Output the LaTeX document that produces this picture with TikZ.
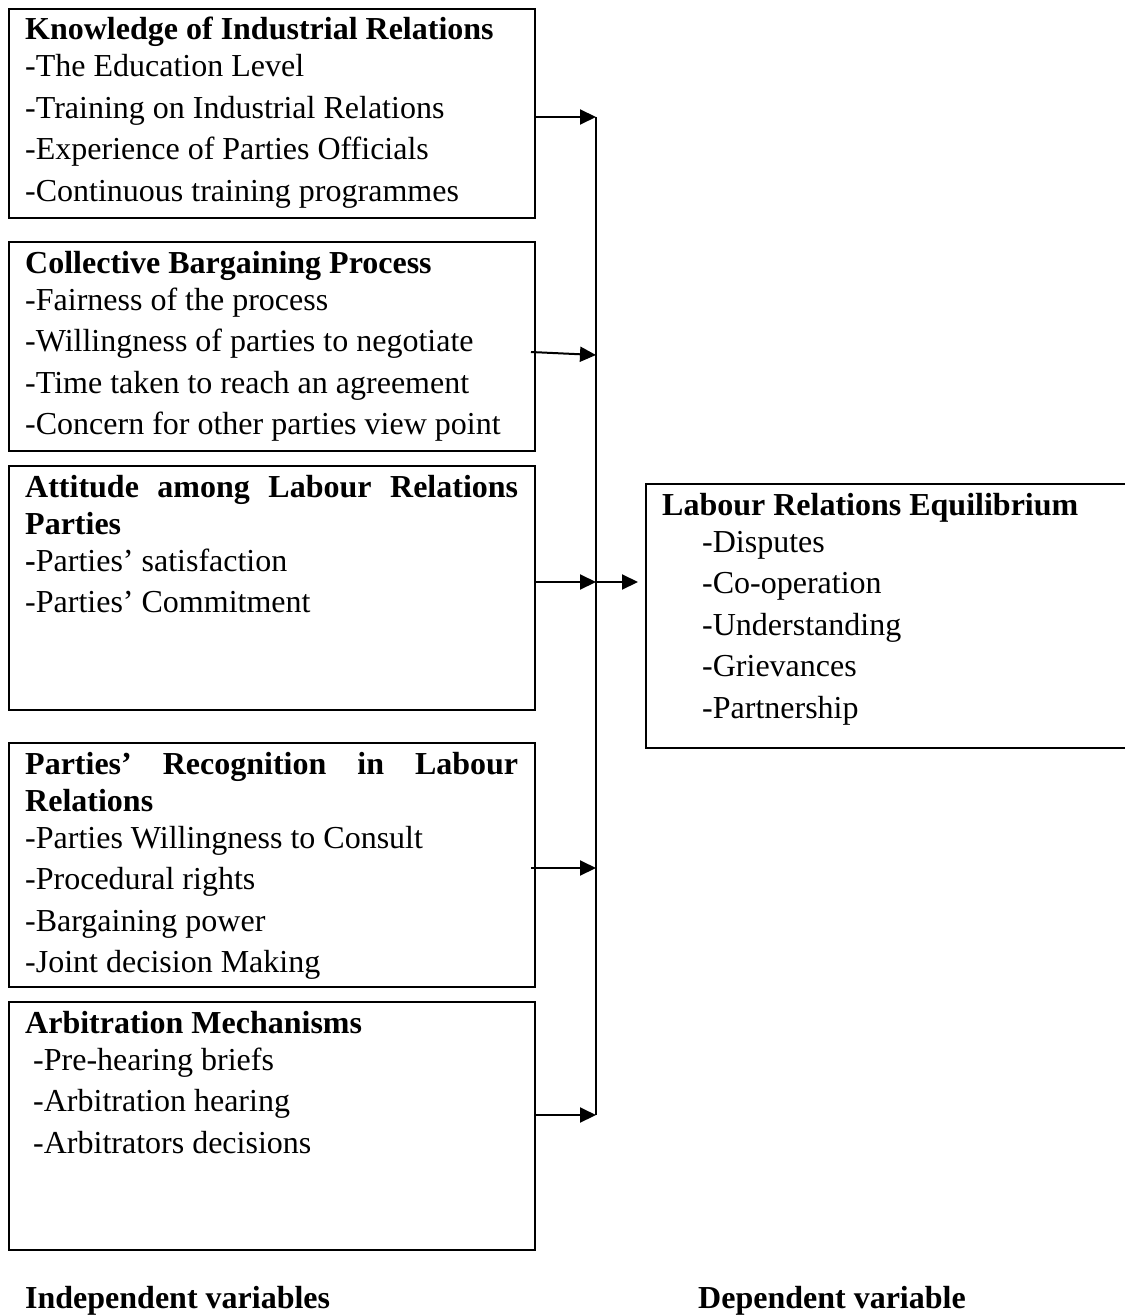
\documentclass[tikz,border=0pt]{standalone}
\usepackage{fontspec}
\setmainfont{Liberation Serif}
\usetikzlibrary{arrows.meta}
\begin{document}
\begin{tikzpicture}[x=1pt,y=-1pt,
  box/.style={draw,line width=2pt,anchor=north west,inner sep=0pt,outer sep=0pt},
  txt/.style={anchor=base west,inner sep=0pt,font=\fontsize{32}{37}\selectfont},
  hd/.style={anchor=base west,inner sep=0pt,font=\fontsize{32}{37}\selectfont\bfseries},
  conn/.style={line width=2pt,-{Triangle[length=16pt,width=15pt]}},
  vline/.style={line width=2pt}]
\useasboundingbox (0,0) rectangle (1124,1316);
% boxes
\node[box,minimum width=526pt,minimum height=209pt] (b1) at (9,9) {};
\node[box,minimum width=526pt,minimum height=209pt] (b2) at (9,242) {};
\node[box,minimum width=526pt,minimum height=244pt] (b3) at (9,466) {};
\node[box,minimum width=526pt,minimum height=244pt] (b4) at (9,743) {};
\node[box,minimum width=526pt,minimum height=248pt] (b5) at (9,1002) {};
\node[box,minimum width=500pt,minimum height=264pt] (rb) at (646,484) {};
% box 1
\node[hd]  (t1a) at (25,40)    {Knowledge of Industrial Relations};
\node[txt] (t1b) at (25,77)    {-The Education Level};
\node[txt] (t1c) at (25,118.5) {-Training on Industrial Relations};
\node[txt] (t1d) at (25,160)   {-Experience of Parties Officials};
\node[txt] (t1e) at (25,201.5) {-Continuous training programmes};
% box 2
\node[hd]  (t2a) at (25,273)   {Collective Bargaining Process};
\node[txt] (t2b) at (25,310)   {-Fairness of the process};
\node[txt] (t2c) at (25,351.5) {-Willingness of parties to negotiate};
\node[txt] (t2d) at (25,393)   {-Time taken to reach an agreement};
\node[txt] (t2e) at (25,434.5) {-Concern for other parties view point};
% box 3
\node[hd]  (t3a) at (25,497)   {\hbox to 493pt{Attitude\hfill among\hfill Labour\hfill Relations}};
\node[hd]  (t3b) at (25,534)   {Parties};
\node[txt] (t3c) at (25,571)   {\textbf{-}Parties’ satisfaction};
\node[txt] (t3d) at (25,612.5) {-Parties’ Commitment};
% box 4
\node[hd]  (t4a) at (25,774)   {\hbox to 493pt{Parties’\hfill Recognition\hfill in\hfill Labour}};
\node[hd]  (t4b) at (25,811)   {Relations};
\node[txt] (t4c) at (25,848)   {-Parties Willingness to Consult};
\node[txt] (t4d) at (25,889.5) {-Procedural rights};
\node[txt] (t4e) at (25,931)   {-Bargaining power};
\node[txt] (t4f) at (25,972.5) {-Joint decision Making};
% box 5
\node[hd]  (t5a) at (25,1033)   {Arbitration Mechanisms};
\node[txt] (t5b) at (33,1070)   {-Pre-hearing briefs};
\node[txt] (t5c) at (33,1111.5) {-Arbitration hearing};
\node[txt] (t5d) at (33,1153)   {-Arbitrators decisions};
% right box
\node[hd]  (r0) at (662,515)   {Labour Relations Equilibrium};
\node[txt] (r1) at (702,552)   {-Disputes};
\node[txt] (r2) at (702,593.5) {-Co-operation};
\node[txt] (r3) at (702,635)   {-Understanding};
\node[txt] (r4) at (702,676.5) {-Grievances};
\node[txt] (r5) at (702,718)   {-Partnership};
% labels
\node[hd] (li) at (25,1308)  {Independent variables};
\node[hd] (ld) at (698,1308) {Dependent variable};
% connectors
\coordinate (j1) at (596,117);
\coordinate (j2) at (596,355);
\coordinate (j3) at (596,582);
\coordinate (j4) at (596,868);
\coordinate (j5) at (596,1115);
\coordinate (s2) at (531,352);
\coordinate (s4) at (531,868);
\draw[vline] (j1) -- (j5);
\draw[conn] (b1.east |- j1) -- (j1);
\draw[conn] (s2) -- (j2);
\draw[conn] (b3.east |- j3) -- (j3);
\draw[conn] (s4) -- (j4);
\draw[conn] (b5.east |- j5) -- (j5);
\draw[conn,shorten >=8pt] (j3) -- (rb.west |- j3);
\end{tikzpicture}
\end{document}
